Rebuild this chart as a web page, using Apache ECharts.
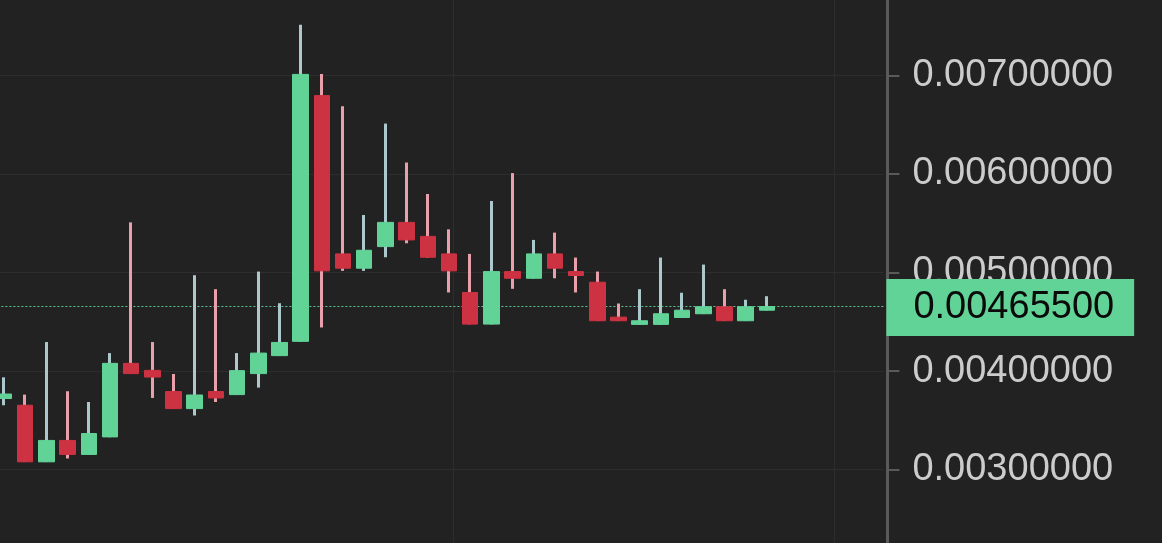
<!DOCTYPE html>
<html>
<head>
<meta charset="utf-8">
<script src="https://cdn.jsdelivr.net/npm/echarts@6/dist/echarts.min.js"></script>
<style>
  html, body { margin: 0; padding: 0; background: #222222; }
  #chart { width: 1162px; height: 543px; }
</style>
</head>
<body>
<div id="chart"></div>
<script>
// candle values
const opens  = [0.003722, 0.003654, 0.003080, 0.003297, 0.003155, 0.003333, 0.004079, 0.004008, 0.003793, 0.003620,
                0.003793, 0.003762, 0.003975, 0.004157, 0.004302, 0.006795, 0.005189, 0.005044, 0.005263, 0.005509,
                0.005367, 0.005189, 0.004798, 0.004477, 0.005010, 0.004942, 0.005189, 0.005010, 0.004902, 0.004548,
                0.004474, 0.004474, 0.004544, 0.004582, 0.004653, 0.004511, 0.004618];
const closes = [0.003768, 0.003080, 0.003297, 0.003155, 0.003367, 0.004079, 0.003975, 0.003940, 0.003620, 0.003758,
                0.003728, 0.004005, 0.004183, 0.004291, 0.007010, 0.005017, 0.005044, 0.005226, 0.005509, 0.005331,
                0.005155, 0.005017, 0.004477, 0.005010, 0.004942, 0.005189, 0.005044, 0.004970, 0.004511, 0.004511,
                0.004511, 0.004582, 0.004618, 0.004653, 0.004511, 0.004653, 0.004655];
const lows   = [0.003654, 0.003078, 0.003078, 0.003114, 0.003150, 0.003330, 0.003972, 0.003728, 0.003617, 0.003550,
                0.003687, 0.003760, 0.003833, 0.004155, 0.004300, 0.004443, 0.005017, 0.005017, 0.005155, 0.005297,
                0.005150, 0.004798, 0.004475, 0.004475, 0.004835, 0.004940, 0.004942, 0.004798, 0.004509, 0.004509,
                0.004472, 0.004472, 0.004542, 0.004580, 0.004509, 0.004509, 0.004616];
const highs  = [0.003937, 0.003762, 0.004295, 0.003796, 0.003687, 0.004183, 0.005509, 0.004295, 0.003971, 0.004973,
                0.004831, 0.004183, 0.005010, 0.004689, 0.007513, 0.007014, 0.006687, 0.005584, 0.006511, 0.006116,
                0.005797, 0.005438, 0.005189, 0.005726, 0.006009, 0.005331, 0.005405, 0.005152, 0.005010, 0.004686,
                0.004831, 0.005152, 0.004795, 0.005081, 0.004831, 0.004724, 0.004760];
const emptySlots = 5;
const categories = opens.map((_, i) => String(i + 1)).concat(Array(emptySlots).fill(''));
const lastPrice = 0.004655;
const yTicks = { min: 0.002, max: 0.008, step: 0.001 };
// time grid lines, in candle slot units
const timeLines = [21.68, 39.7];

const upBody = '#62d397', downBody = '#cd3242';
const upWick = '#adc8cd', downWick = '#eaa0aa';
const axisGray = '#5a5a5a';

const chart = echarts.init(document.getElementById('chart'));

const wickData = opens.map((o, i) => {
  const c = closes[i];
  const mid = (o + c) / 2;
  const col = c >= o ? upWick : downWick;
  return {
    value: [mid, mid, lows[i], highs[i]],
    itemStyle: { color: col, color0: col, borderColor: col, borderColor0: col }
  };
});
const bodyData = opens.map((o, i) => {
  const c = closes[i];
  return [o, c, Math.min(o, c), Math.max(o, c)];
});

chart.setOption({
  backgroundColor: '#222222',
  animation: false,
  grid: {
    left: -6.6, right: 278.6, top: -23.2, bottom: -25.3,
    containLabel: false, outerBoundsMode: 'none'
  },
  xAxis: [
    {
      type: 'category',
      data: categories,
      boundaryGap: true,
      axisLine: { show: false },
      axisTick: { show: false },
      axisLabel: { show: false },
      splitLine: { show: false }
    },
    { type: 'value', show: false, min: 0, max: categories.length }
  ],
  yAxis: {
    type: 'value',
    position: 'right',
    offset: 4,
    min: yTicks.min,
    max: yTicks.max,
    interval: yTicks.step,
    axisLine: { show: true, onZero: false, lineStyle: { color: axisGray, width: 3 } },
    axisTick: { show: true, length: 12, lineStyle: { color: axisGray, width: 2 } },
    axisLabel: {
      margin: 25,
      fontSize: 38,
      fontFamily: 'Liberation Sans',
      color: '#cccccc',
      showMinLabel: false,
      showMaxLabel: false,
      formatter: v => v.toFixed(8)
    },
    splitLine: { show: true, lineStyle: { color: '#2d2d2d', width: 1 } }
  },
  series: [
    {
      type: 'line',
      xAxisIndex: 1,
      data: [],
      silent: true,
      markLine: {
        silent: true,
        symbol: 'none',
        z: 0,
        label: { show: false },
        lineStyle: { color: '#2d2d2d', width: 1, type: 'solid' },
        data: timeLines.map(x => ({ xAxis: x }))
      }
    },
    {
      type: 'line',
      xAxisIndex: 1,
      data: [],
      silent: true,
      clip: false,
      markLine: {
        silent: true,
        symbol: 'none',
        precision: 8,
        z: 1,
        lineStyle: { color: '#5fc994', width: 1, type: [2, 2] },
        label: {
          show: true,
          position: 'end',
          distance: 3,
          offset: [0, 1],
          formatter: () => lastPrice.toFixed(8),
          fontSize: 38,
          fontFamily: 'Liberation Sans',
          color: '#0a0a0a',
          lineHeight: 38,
          backgroundColor: upBody,
          padding: [10, 20, 9, 27]
        },
        data: [{ yAxis: lastPrice }]
      }
    },
    {
      name: 'wick',
      type: 'candlestick',
      barWidth: 1,
      z: 2,
      itemStyle: { borderWidth: 3 },
      data: wickData
    },
    {
      name: 'body',
      type: 'candlestick',
      barWidth: 16,
      z: 3,
      itemStyle: {
        color: upBody, color0: downBody,
        borderColor: upBody, borderColor0: downBody,
        borderWidth: 1
      },
      data: bodyData
    }
  ]
});
</script>
</body>
</html>
